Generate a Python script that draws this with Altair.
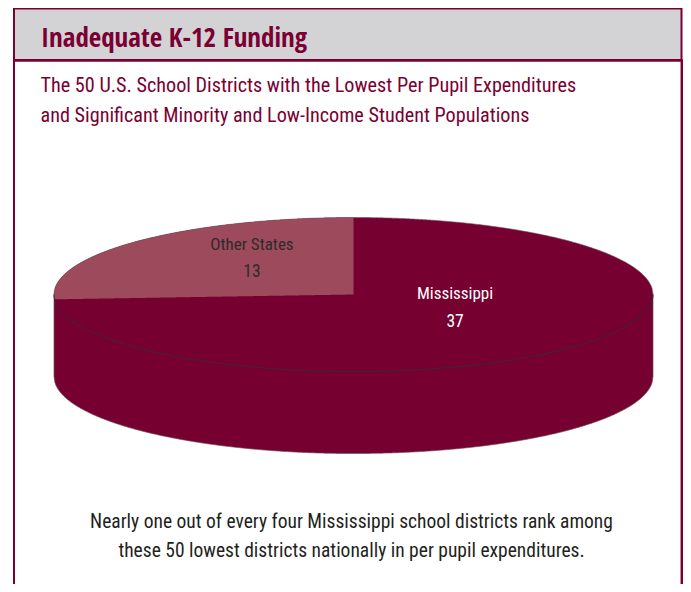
import numpy as np
import pandas as pd
import altair as alt

# ---------------- data ----------------
categories = ["Other States", "Mississippi"]
counts = [13, 37]
slice_colors = ["#9c4a5c", "#760030"]
label_colors = ["#2e2a2b", "#ffffff"]

title_text = "Inadequate K-12 Funding"
subtitle_lines = [
    "The 50 U.S. School Districts with the Lowest Per Pupil Expenditures",
    "and Significant Minority and Low-Income Student Populations",
]
note_lines = [
    "Nearly one out of every four Mississippi school districts rank among",
    "these 50 lowest districts nationally in per pupil expenditures.",
]

# ---------------- layout / style ----------------
W, H = 675, 576
OX, OY = 8, 8  # page margin; scales are expressed in page pixels
CX, CY, RX, RY, DEPTH = 353.5, 294.5, 299.5, 77.0, 82.0
LABEL_R, LABEL_SHIFT = 0.465, -14.0
MAROON = "#7a0033"
GRAY = "#d3d3d5"
FONT = "Roboto Condensed, DejaVu Sans Condensed, sans-serif"
TITLE_FONT = "Open Sans Condensed, Roboto Condensed, sans-serif"

xscale = alt.Scale(domain=[OX, OX + W], nice=False, zero=False)
yscale = alt.Scale(domain=[OY, OY + H], nice=False, zero=False, reverse=True)


def X(f):
    return alt.X(f + ":Q", scale=xscale, axis=None)


def Y(f):
    return alt.Y(f + ":Q", scale=yscale, axis=None)


# ---------------- pie geometry from the data ----------------
total = float(sum(counts))
angles = np.cumsum([0.0] + [2 * np.pi * c / total for c in counts])
starts, ends = angles[:-1], angles[1:]

u = np.linspace(-1, 1, 601)
s = np.sqrt(np.clip(1 - u ** 2, 0, None))
xs = CX + RX * u

side_df = pd.DataFrame({"x": xs, "y": CY, "y2": CY + DEPTH + RY * s})
top_df = pd.DataFrame({"x": xs, "y": CY - RY * s, "y2": CY + RY * s})

# first slice (counter-clockwise from 12 o'clock), drawn over the full ellipse
theta = ends[0]
ex, ey = CX - RX * np.sin(theta), CY - RY * np.cos(theta)
sx = np.sort(np.unique(np.concatenate([np.linspace(CX - RX, CX, 400), [ex]])))
su = (sx - CX) / RX
ss = np.sqrt(np.clip(1 - su ** 2, 0, None))
upper = CY - RY * ss
lower = np.where(sx >= ex, CY + (sx - CX) * (ey - CY) / (ex - CX), CY + RY * ss)
slice_df = pd.DataFrame({"x": sx, "y": upper, "y2": lower})

tf = np.linspace(np.pi / 2, 3 * np.pi / 2, 361)   # front rim of the top face
front_df = pd.DataFrame({"x": CX + RX * np.sin(tf), "y": CY - RY * np.cos(tf), "o": np.arange(len(tf))})
tb = np.linspace(-np.pi / 2, np.pi / 2, 361)      # back rim of the top face
back_df = pd.DataFrame({"x": CX + RX * np.sin(tb), "y": CY - RY * np.cos(tb), "o": np.arange(len(tb))})

mids = (starts + ends) / 2
label_df = pd.DataFrame({
    "category": categories,
    "count": [str(c) for c in counts],
    "x": CX - LABEL_R * RX * np.sin(mids),
    "y": CY - LABEL_R * RY * np.cos(mids) + LABEL_SHIFT,
})

# ---------------- layers ----------------
one = pd.DataFrame({"k": [0]})

header = alt.Chart(one).mark_rect(fill=GRAY, stroke=MAROON, strokeWidth=2).encode(
    x=alt.value(6), x2=alt.value(673.5), y=alt.value(0.5), y2=alt.value(52)
)
left_rule = alt.Chart(one).mark_rule(color=MAROON, strokeWidth=2).encode(
    x=alt.value(6), y=alt.value(0), y2=alt.value(H)
)
right_rule = alt.Chart(one).mark_rule(color=MAROON, strokeWidth=2.5).encode(
    x=alt.value(673.8), y=alt.value(52), y2=alt.value(H)
)
sep_rule = alt.Chart(one).mark_rule(color=MAROON, strokeWidth=2.5).encode(
    x=alt.value(6), x2=alt.value(675), y=alt.value(52.5)
)

title = alt.Chart(one).mark_text(
    align="left", baseline="alphabetic", font=TITLE_FONT, fontSize=27, fontWeight="bold", color=MAROON
).encode(x=alt.value(33), y=alt.value(38.5), text=alt.value(title_text))

sub_layers = []
for i, line in enumerate(subtitle_lines):
    sub_layers.append(
        alt.Chart(one).mark_text(
            align="left", baseline="alphabetic", font=FONT, fontSize=20.2, color=MAROON
        ).encode(x=alt.value(32.5), y=alt.value(84.3 + 29.4 * i), text=alt.value(line))
    )

note_layers = []
for i, line in enumerate(note_lines):
    note_layers.append(
        alt.Chart(one).mark_text(
            align="center", baseline="alphabetic", font=FONT, fontSize=19.5, color="#231f20"
        ).encode(x=alt.value(343.5), y=alt.value(520.3 + 28.4 * i), text=alt.value(line))
    )

side = alt.Chart(side_df).mark_area(
    color=slice_colors[1], stroke="#6b4a55", strokeWidth=0.7
).encode(x=X("x"), y=Y("y"), y2="y2")

top = alt.Chart(top_df).mark_area(color=slice_colors[1]).encode(x=X("x"), y=Y("y"), y2="y2")

other = alt.Chart(slice_df).mark_area(color=slice_colors[0]).encode(x=X("x"), y=Y("y"), y2="y2")

front_rim = alt.Chart(front_df).mark_line(color="#3a2a30", strokeWidth=1).encode(
    x=X("x"), y=Y("y"), order="o:Q"
)
back_rim = alt.Chart(back_df).mark_line(color="#6e5560", strokeWidth=0.6).encode(
    x=X("x"), y=Y("y"), order="o:Q"
)

color_scale = alt.Scale(domain=categories, range=label_colors)
name_text = alt.Chart(label_df).mark_text(
    align="center", baseline="alphabetic", font=FONT, fontSize=17, dy=-6
).encode(x=X("x"), y=Y("y"), text="category:N",
         color=alt.Color("category:N", scale=color_scale, legend=None))
count_text = alt.Chart(label_df).mark_text(
    align="center", baseline="alphabetic", font=FONT, fontSize=17.5, dy=21.5
).encode(x=X("x"), y=Y("y"), text="count:N",
         color=alt.Color("category:N", scale=color_scale, legend=None))

chart = alt.layer(
    header, left_rule, right_rule, sep_rule, title, *sub_layers,
    side, top, other, back_rim, front_rim, name_text, count_text, *note_layers
).properties(
    width=W, height=H, padding=0, autosize="none", background="white",
).configure_view(stroke=None)

chart.save("out.html", embed_options={"renderer": "svg", "actions": False})
